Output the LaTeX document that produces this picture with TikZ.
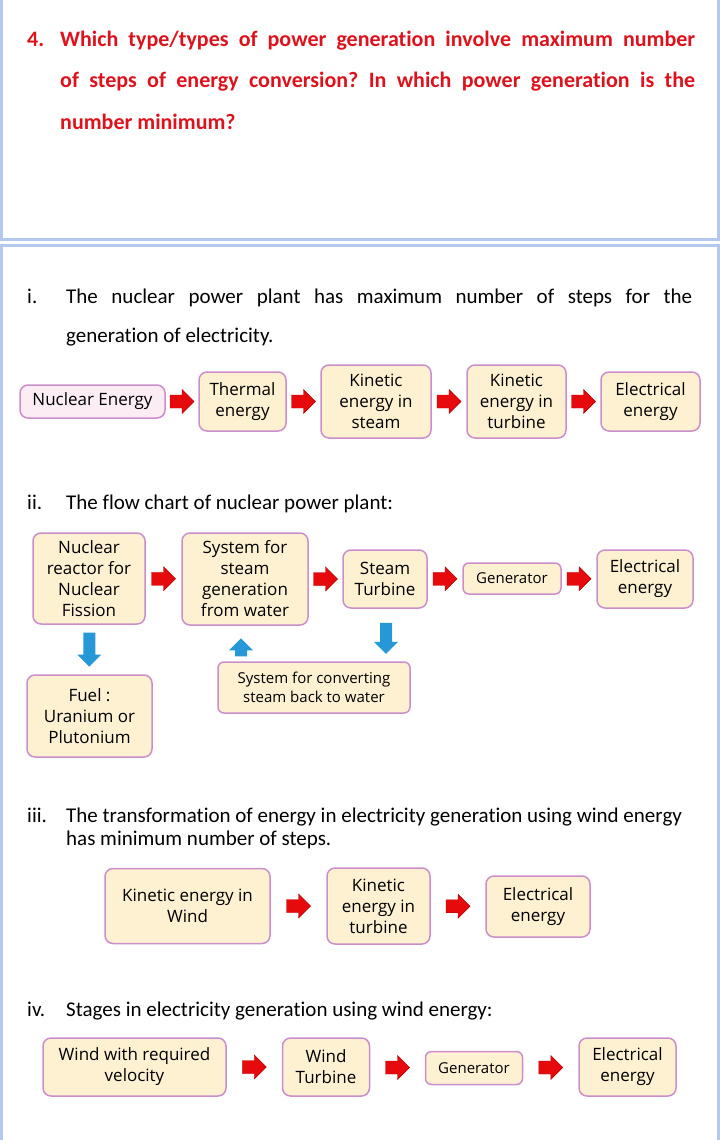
\documentclass[tikz,border=0pt]{standalone}
\usepackage{fontspec}
\setmainfont{Carlito}[Ligatures=NoCommon]
\newfontfamily\boxfont{Open Sans}
\usetikzlibrary{calc}
\frenchspacing

\definecolor{quesred}{RGB}{222,18,28}
\definecolor{frameblue}{RGB}{180,199,236}
\definecolor{boxfill}{RGB}{254,241,210}
\definecolor{pinkfill}{RGB}{251,237,243}
\definecolor{boxline}{RGB}{203,142,203}
\definecolor{arrowred}{RGB}{230,10,12}
\definecolor{arrowdark}{RGB}{175,0,0}
\definecolor{arrowblue}{RGB}{38,152,216}

\tikzset{
  stage/.style={draw=boxline, fill=boxfill, line width=1.5pt, rounded corners=8pt,
    align=center, inner sep=0pt, text=black, font=\boxfont\fontsize{17}{21}\selectfont},
  smallstage/.style={stage, rounded corners=6pt, font=\boxfont\fontsize{15}{18.5}\selectfont},
  question/.style={anchor=base west, inner sep=0pt, text=quesred,
    font=\fontsize{22}{26}\selectfont\bfseries},
  body/.style={anchor=base west, inner sep=0pt, font=\fontsize{21}{24}\selectfont},
  redarrow/.pic={
    \fill[arrowred, draw=arrowdark, line width=0.4pt]
      (-12,-6.5) -- (0,-6.5) -- (0,-12) -- (12,0) -- (0,12) -- (0,6.5) -- (-12,6.5) -- cycle;
  },
  pics/bluedown/.style={code={
    \fill[arrowblue]
      (-6,-#1/2) -- (6,-#1/2) -- (6,#1/2-12) -- (12,#1/2-12) -- (0,#1/2)
      -- (-12,#1/2-12) -- (-6,#1/2-12) -- cycle;
  }},
}

\begin{document}
\begin{tikzpicture}[x=1pt, y=-1pt]

\useasboundingbox (0,0) rectangle (720,1140);

\draw [frameblue, line width=3pt] (1.5,-5) rectangle (718.5,239.5);
\draw [frameblue, line width=3pt] (1.5,245.5) rectangle (718.5,1150);

\node (qnum) [question] at (27,47) {4.};
\node (q1) [question] at (60,47) {\makebox[635pt][s]{Which type/types of power generation involve maximum number}};
\node (q2) [question] at (60,88) {\makebox[635pt][s]{of steps of energy conversion? In which power generation is the}};
\node (q3) [question] at (60,129) {number minimum?};

\node (inum) [body] at (27,303) {i.};
\node (i1) [body] at (66,303) {\makebox[626pt][s]{The nuclear power plant has maximum number of steps for the}};
\node (i2) [body] at (66,342) {generation of electricity.};

\node (ne) [stage, fill=pinkfill, minimum width=145pt, minimum height=33pt] at (92.5,401.5) {Nuclear Energy};
\node (te) [stage, minimum width=87pt, minimum height=59pt] at (242.5,401.5) {Thermal\\energy};
\node (ks) [stage, minimum width=110pt, minimum height=73pt] at (376,401.5) {Kinetic\\energy in\\steam};
\node (kt) [stage, minimum width=99pt, minimum height=73pt] at (516.5,401.5) {Kinetic\\energy in\\turbine};
\node (ee) [stage, minimum width=99pt, minimum height=59pt] at (650.5,401.5) {Electrical\\energy};

\pic at ($(ne.east)!0.5!(te.west)$) {redarrow};
\pic at ($(te.east)!0.5!(ks.west)$) {redarrow};
\pic at ($(ks.east)!0.5!(kt.west)$) {redarrow};
\pic at ($(kt.east)!0.5!(ee.west)$) {redarrow};

\node (iinum) [body] at (27,509) {ii.};
\node (ii1) [body] at (66,509) {The flow chart of nuclear power plant:};

\node (rx) [stage, minimum width=112pt, minimum height=91pt] at (89,578.5) {Nuclear\\reactor for\\Nuclear\\Fission};
\node (sg) [stage, minimum width=126pt, minimum height=92pt] at (245,579) {System for\\steam\\generation\\from water};
\node (st) [stage, minimum width=84pt, minimum height=58pt] at (385,579) {Steam\\Turbine};
\node (gn) [smallstage, minimum width=98pt, minimum height=31pt] at (512,578.5) {Generator};
\node (ef) [stage, minimum width=96pt, minimum height=58pt] at (645,579) {Electrical\\energy};
\node (fu) [stage, minimum width=125pt, minimum height=82pt] at (89.5,716) {Fuel :\\Uranium or\\Plutonium};
\node (cv) [smallstage, minimum width=192pt, minimum height=51pt] at (314,687.5) {System for converting\\steam back to water};

\pic at ($(rx.east)!0.5!(sg.west)$) {redarrow};
\pic at ($(sg.east)!0.5!(st.west)$) {redarrow};
\pic at ($(st.east)!0.5!(gn.west)$) {redarrow};
\pic at ($(gn.east)!0.5!(ef.west)$) {redarrow};

\pic at ($(rx.south)!0.5!(fu.north)$) {bluedown=34};
\path (st.south) ++(1,29.5) coordinate (down);
\pic at (down) {bluedown=31};
\path (sg.south) ++(-4,21.5) coordinate (up);
\pic [rotate=180] at (up) {bluedown=18};

\node (iiinum) [body] at (27,822) {iii.};
\node (iii1) [body] at (66,822) {The transformation of energy in electricity generation using wind energy};
\node (iii2) [body] at (66,845) {has minimum number of steps.};

\node (kw) [stage, minimum width=165pt, minimum height=75pt] at (187.5,906) {Kinetic energy in\\Wind};
\node (kr) [stage, minimum width=103pt, minimum height=76pt] at (378.5,906) {Kinetic\\energy in\\turbine};
\node (ew) [stage, minimum width=104pt, minimum height=61pt] at (538,906.5) {Electrical\\energy};

\pic at ($(kw.east)!0.5!(kr.west)$) {redarrow};
\pic at ($(kr.east)!0.5!(ew.west)$) {redarrow};

\node (ivnum) [body] at (27,1016) {iv.};
\node (iv1) [body] at (66,1016) {Stages in electricity generation using wind energy:};

\node (wv) [stage, minimum width=183pt, minimum height=58pt] at (134.5,1067) {Wind with required\\velocity};
\node (wt) [stage, minimum width=87pt, minimum height=58pt] at (326,1067) {Wind\\Turbine};
\node (wg) [smallstage, minimum width=97pt, minimum height=33pt] at (474,1068) {Generator};
\node (we) [stage, minimum width=97pt, minimum height=58pt] at (627.5,1067) {Electrical\\energy};

\pic at ($(wv.east)!0.5!(wt.west)$) {redarrow};
\pic at ($(wt.east)!0.5!(wg.west)$) {redarrow};
\pic at ($(wg.east)!0.5!(we.west)$) {redarrow};

\end{tikzpicture}
\end{document}
